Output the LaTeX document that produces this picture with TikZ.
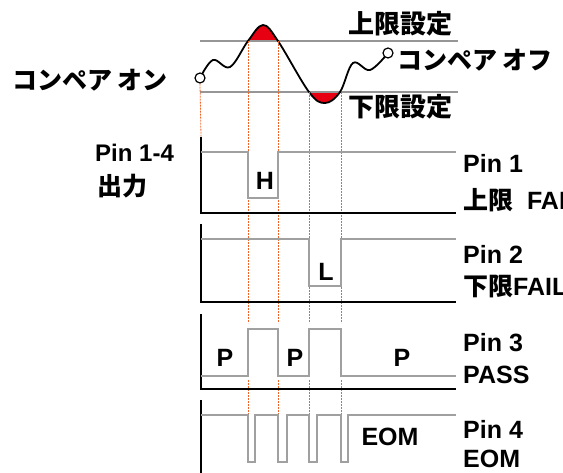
\documentclass[tikz,border=0pt]{standalone}
\usepackage{fontspec}
\setmainfont{Liberation Sans}
\newfontfamily\jp{Noto Sans CJK JP}
\usetikzlibrary{positioning}
\definecolor{limRed}{RGB}{230,0,18}
\definecolor{dotOrange}{RGB}{240,100,40}
\definecolor{sigGray}{RGB}{160,160,160}
\definecolor{limGray}{RGB}{150,150,150}

% the measured wave between the two compare points
\newcommand\wavepath{plot[smooth, tension=0.6] coordinates {(200,-78) (213,-60) (230,-67) (248,-41) (263,-25) (278,-41) (309,-92) (325,-103) (340,-92) (353,-63) (370,-70) (388,-53)}}

\begin{document}
\begin{tikzpicture}[x=1pt, y=1pt,
  lbl/.style={font=\fontsize{25}{30}\selectfont\bfseries, inner sep=0pt, anchor=west},
  jlbl/.style={font=\fontsize{25}{30}\selectfont\jp\bfseries, inner sep=0pt, anchor=west},
  siglbl/.style={font=\fontsize{25}{30}\selectfont\bfseries, inner sep=0pt},
  limline/.style={draw=limGray, line width=2pt},
  axisline/.style={draw=black, line width=2pt},
  signal/.style={draw=sigGray, line width=2pt},
  guide/.style={draw=dotOrange, line width=0.8pt, dash pattern=on 2pt off 1pt},
  cmp/.style={circle, draw=black, fill=white, line width=1.2pt, inner sep=0pt, minimum size=10pt}
]
  \useasboundingbox (0,0) rectangle (563,-473);
  \clip (0,0) rectangle (563,-473);

  % red areas beyond the limits
  \begin{scope}
    \clip (150,0) rectangle (460,-41);
    \fill[limRed] \wavepath -- cycle;
  \end{scope}
  \begin{scope}
    \clip (150,-92) rectangle (460,-130);
    \fill[limRed] \wavepath -- cycle;
  \end{scope}

  % limit lines
  \coordinate (hiL) at (200,-41);
  \coordinate (hiR) at (458,-41);
  \coordinate (loL) at (200,-92);
  \coordinate (loR) at (458,-92);
  \draw[limline] (hiL) -- (hiR);
  \draw[limline] (loL) -- (loR);

  % wave and compare on/off points
  \draw[black, line width=1.8pt] \wavepath;
  \node[cmp] (on) at (200,-78) {};
  \node[cmp] (off) at (388,-53) {};

  \node[jlbl, font=\fontsize{26}{30}\selectfont\jp\bfseries, anchor=center] (hiset) at (400,-24) {上限設定};
  \node[jlbl, font=\fontsize{26}{30}\selectfont\jp\bfseries, anchor=center] (loset) at (400,-107) {下限設定};
  \node[jlbl] (onlbl) at (12,-80) {コンペア オン};
  \node[jlbl] (offlbl) at (397,-60) {コンペア オフ};

  % dotted guides
  \coordinate (axtop) at (201,-137);
  \draw[guide] (on.south) -- (axtop);
  \foreach \x/\y in {248/41, 278/41, 309/92, 341/92} {
    \draw[guide] (\x,-\y) -- (\x,-323);
    \draw[guide] (\x,-380) -- (\x,-414);
  }

  % Pin 1
  \draw[axisline] (201,-137) -- (201,-213) -- (456,-213);
  \draw[signal] (201,-152) -- (248,-152) -- (248,-198) -- (278,-198) -- (278,-152) -- (456,-152);
  \node[siglbl] (hmark) at (265,-181) {H};

  % Pin 2
  \draw[axisline] (201,-224) -- (201,-302) -- (456,-302);
  \draw[signal] (201,-239) -- (309,-239) -- (309,-286) -- (341,-286) -- (341,-239) -- (456,-239);
  \node[siglbl] (lmark) at (326,-272) {L};

  % Pin 3
  \draw[axisline] (201,-314) -- (201,-389) -- (456,-389);
  \draw[signal] (201,-376) -- (248,-376) -- (248,-329) -- (278,-329) -- (278,-376)
    -- (309,-376) -- (309,-329) -- (341,-329) -- (341,-376) -- (456,-376);
  \node[siglbl] (pA) at (225,-358) {P};
  \node[siglbl] (pB) at (295,-358) {P};
  \node[siglbl] (pC) at (402,-358) {P};

  % Pin 4
  \draw[axisline] (201,-400) -- (201,-473);
  \draw[signal] (201,-415) -- (248,-415) -- (248,-462) -- (255,-462) -- (255,-415)
    -- (278,-415) -- (278,-462) -- (287,-462) -- (287,-415)
    -- (309,-415) -- (309,-462) -- (317,-462) -- (317,-415)
    -- (341,-415) -- (341,-462) -- (348,-462) -- (348,-415) -- (456,-415);
  \node[siglbl] (eom) at (390,-437) {EOM};

  % labels
  \node[lbl, font=\fontsize{24}{30}\selectfont\bfseries] (pins) at (95,-153) {Pin 1-4};
  \node[jlbl] (outlbl) at (97,-186) {出力};
  \node[lbl] (pin1) at (463,-163) {Pin 1};
  \node[lbl] (fail1) at (463,-200) {{\jp 上限}\ \ FAIL};
  \node[lbl] (pin2) at (463,-254) {Pin 2};
  \node[lbl] (fail2) at (463,-286) {{\jp 下限}FAIL};
  \node[lbl] (pin3) at (463,-343) {Pin 3};
  \node[lbl] (pass) at (463,-375) {PASS};
  \node[lbl] (pin4) at (463,-429) {Pin 4};
  \node[lbl] (eomlbl) at (463,-459) {EOM};
\end{tikzpicture}
\end{document}
